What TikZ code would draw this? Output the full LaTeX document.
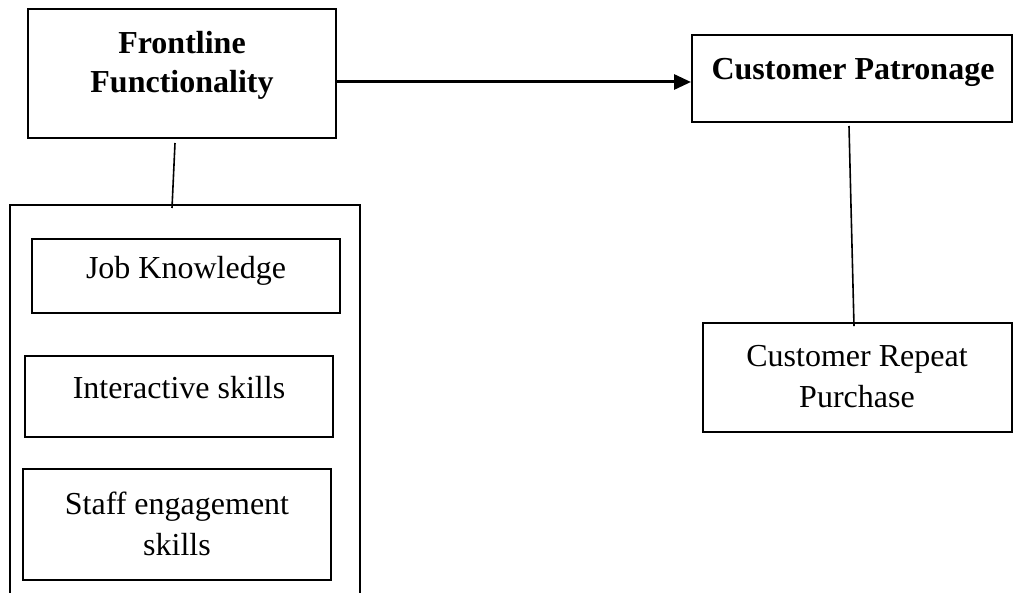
\documentclass[tikz,border=0pt]{standalone}
\usepackage{fontspec}
\setmainfont{Liberation Serif}
\usetikzlibrary{arrows.meta}
\begin{document}
\begin{tikzpicture}[x=1pt,y=-1pt,
  box/.style={draw, line width=2pt, inner sep=0pt},
  inbox/.style={draw, line width=1.7pt, inner sep=0pt},
  txt/.style={font=\fontsize{32}{41}\selectfont, align=center, inner sep=0pt},
  btxt/.style={font=\fontsize{32}{39}\selectfont\bfseries, align=center, inner sep=0pt},
  conn/.style={line width=1.6pt},
  arrowline/.style={line width=3pt, -{Triangle[length=17pt,width=15pt]}},
  ]
\useasboundingbox (0,0) rectangle (1013,593);
% top boxes
\node[box, minimum width=308pt, minimum height=129pt] (ff) at (182,73.5) {};
\node[btxt] (fftext) at (182,65.5) {Frontline\\Functionality};
\node[box, minimum width=320pt, minimum height=87pt] (cp) at (852,78.5) {};
\node[btxt] (cptext) at (853,72.5) {Customer Patronage};
% outer open box
\coordinate (bl) at (10,600);
\coordinate (tl) at (10,205);
\coordinate (tr) at (360,205);
\coordinate (br) at (360,600);
\coordinate (bt) at (172,208);
\draw[line width=1.8pt] (bl) -- (tl) -- (tr) -- (br);
% inner boxes
\node[inbox, minimum width=308pt, minimum height=74pt] (jk) at (186,276) {};
\node[txt] (jktext) at (186,271) {Job Knowledge};
\node[inbox, minimum width=308pt, minimum height=81pt] (is) at (179,396.5) {};
\node[txt] (istext) at (179,388) {Interactive skills};
\node[inbox, minimum width=308pt, minimum height=111pt] (se) at (177,524.5) {};
\node[txt] (setext) at (177,523.5) {Staff engagement\\skills};
\node[inbox, minimum width=309pt, minimum height=109pt] (rp) at (857.5,377.5) {};
\node[txt] (rptext) at (857,376.5) {Customer Repeat\\Purchase};
% connectors
\draw[arrowline] ([yshift=-8.5pt]ff.east) -- ([yshift=-3.5pt]cp.west);
\draw[conn] ([xshift=-7pt,yshift=-4pt]ff.south) -- (bt);
\draw[conn] ([xshift=-3pt,yshift=-3pt]cp.south) -- ([xshift=-3.5pt,yshift=-4pt]rp.north);
\end{tikzpicture}
\end{document}
